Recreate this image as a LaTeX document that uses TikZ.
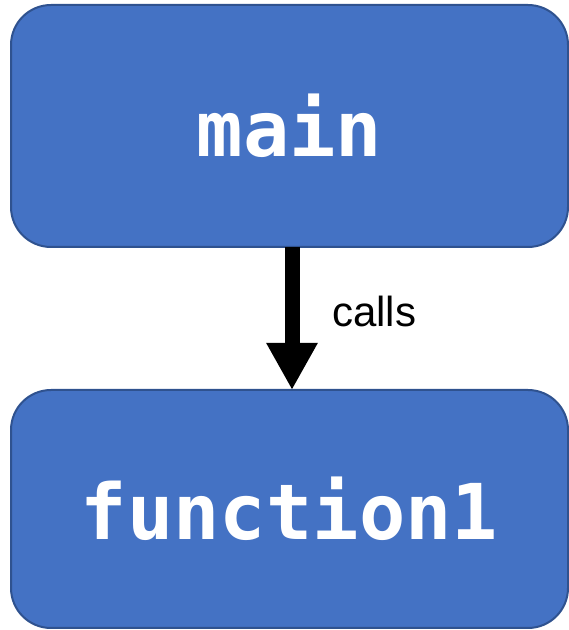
\documentclass[tikz,border=0pt]{standalone}
\usepackage{fontspec}
\setsansfont{Liberation Sans}
\newfontfamily\codefont{DejaVu Sans Mono}
\usetikzlibrary{arrows.meta}
\definecolor{boxfill}{HTML}{4472C4}
\definecolor{boxline}{HTML}{2F528F}
\tikzset{
  blockbox/.style={draw=boxline, fill=boxfill, line width=2pt, rounded corners=40pt,
    minimum width=557pt, inner sep=0pt, outer sep=0pt, text=white,
    font=\codefont\bfseries\fontsize{77}{80}\selectfont},
  callarrow/.style={line width=15pt, -{Triangle[width=48pt,length=47pt]}},
  lbl/.style={font=\sffamily\fontsize{42}{46}\selectfont, inner sep=0pt}
}
\begin{document}
\begin{tikzpicture}[x=1pt,y=1pt]
\useasboundingbox (0,0) rectangle (569,630);
\node[blockbox, minimum height=242pt] (main) at (289.5,504) {main};
\node[blockbox, minimum height=238pt] (f1) at (289.5,121) {function1};
\draw[callarrow] ([xshift=2.5pt]main.south) -- ([xshift=2.5pt]f1.north);
\node[lbl, anchor=base west] (calls) at (332,303) {calls};
\end{tikzpicture}
\end{document}
